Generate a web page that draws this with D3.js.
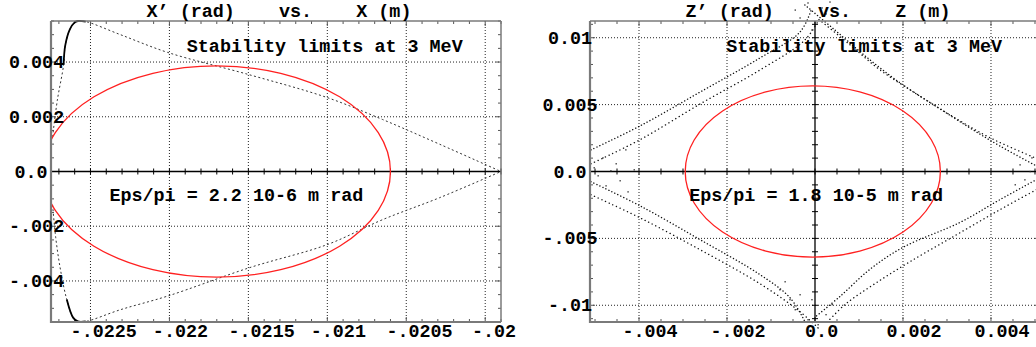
<!DOCTYPE html>
<html>
<head>
<meta charset="utf-8">
<script src="https://cdn.jsdelivr.net/npm/d3@7"></script>
<style>
  html, body { margin: 0; padding: 0; background: #fff; }
  svg text { font-family: "Liberation Mono", "DejaVu Sans Mono", monospace; font-weight: bold; font-size: 18.4px; fill: #000; }
</style>
</head>
<body>
<svg id="chart" width="1036" height="347"></svg>
<script>
"use strict";

// ---- left panel : X' vs X ----
var titleA = "X\u2019 (rad)    vs.    X (m)";
var xTicksA = [-0.0225, -0.022, -0.0215, -0.021, -0.0205, -0.02];
var xTickLabelsA = ["-.0225", "-.022", "-.0215", "-.021", "-.0205", "-.02"];
var yTicksA = [0.004, 0.002, 0, -0.002, -0.004];
var yTickLabelsA = ["0.004", "0.002", "0.0", "-.002", "-.004"];
var ellipseA = {cx: -0.0217, cy: 0, a: 0.0011, b: 0.00386};
// separatrix
var sepUpperX = [-0.02274, -0.02271, -0.02267, -0.02266, -0.02263, -0.0226, -0.02258, -0.02253, -0.02231, -0.02201, -0.02149, -0.0210, -0.02065, -0.02029, -0.0199];
var sepUpperY = [0.00127, 0.0026, 0.0039, 0.0046, 0.0052, 0.00545, 0.0055, 0.00548, 0.0050, 0.00435, 0.00353, 0.0027, 0.0019, 0.001, 0];
var sepLowerX = [-0.02274, -0.02272, -0.02269, -0.02265, -0.02261, -0.02258, -0.02253, -0.02231, -0.02201, -0.02149, -0.021, -0.02065, -0.02029, -0.0199];
var sepLowerY = [-0.00122, -0.00242, -0.00359, -0.00468, -0.00534, -0.00548, -0.00548, -0.00505, -0.00455, -0.00351, -0.00267, -0.00176, -0.00096, 0];
var notesA = ["Stability limits at 3 MeV", "Eps/pi = 2.2 10-6 m rad"];
var notesAX = [-0.02189, -0.02238];
var notesAY = [0.00437, -0.00107];

// ---- right panel : Z' vs Z ----
var titleB = "Z\u2019 (rad)    vs.    Z (m)";
var xTicksB = [-0.004, -0.002, 0, 0.002, 0.004];
var xTickLabelsB = ["-.004", "-.002", "0.0", "0.002", "0.004"];
var yTicksB = [0.01, 0.005, 0, -0.005, -0.01];
var yTickLabelsB = ["0.01", "0.005", "0.0", "-.005", "-.01"];
var ellipseB = {cx: -0.00005, cy: 0, a: 0.0029, b: 0.0064};
// the four bands of tracked points, two rows each
var bandsX = [
  [-0.00509, -0.00398, -0.00261, -0.00125, -0.00034, -0.00007],
  [-0.00509, -0.00398, -0.00261, -0.00125, -0.00023, 0.00011],
  [-0.00509, -0.00398, -0.00261, -0.00125, -0.00057, -0.00023],
  [-0.00509, -0.00398, -0.00261, -0.00125, -0.00034, 0.00011],
  [-0.00023, 0.00045, 0.00125, 0.002, 0.00277, 0.00352, 0.0042, 0.00511],
  [0.00016, 0.0008, 0.00148, 0.00227, 0.00307, 0.00398, 0.00511],
  [0.00511, 0.0042, 0.0033, 0.002, 0.00125, 0.00057, 0],
  [0.00511, 0.0042, 0.00318, 0.00216, 0.00136, 0.00068, 0.00023]
];
var bandsY = [
  [0.00162, 0.0034, 0.00594, 0.00849, 0.01043, 0.01223],
  [0.00058, 0.00237, 0.00505, 0.00759, 0.00983, 0.01147],
  [-0.00077, -0.00256, -0.0051, -0.00771, -0.00943, -0.01122],
  [-0.00174, -0.00346, -0.00585, -0.00839, -0.01048, -0.01182],
  [0.01245, 0.01058, 0.00834, 0.00647, 0.00483, 0.00326, 0.00191, 0.00028],
  [0.01118, 0.00946, 0.00759, 0.00588, 0.00423, 0.00252, 0.00087],
  [-0.00047, -0.00211, -0.0038, -0.00567, -0.00731, -0.00933, -0.01089],
  [-0.00122, -0.00286, -0.0048, -0.00674, -0.00839, -0.00995, -0.01144]
];
// loose points near the corners of the diamond
var fuzzX = [-0.00502, -0.00493, -0.00482, -0.00475, -0.00464, -0.00452, -0.00443, -0.0043, -0.00425, -0.00411,
  -0.00045, -0.00034, -0.00016, 0.00016, 0.00025, 0.00034, -0.00007,
  -0.00057, -0.00045, -0.00034, -0.00016, -0.00007, 0.00007, 0.00025, 0.00039, -0.0008, -0.00068,
  0.00466, 0.00477, 0.00489, 0.00455, 0.00493];
var fuzzY = [0.00028, -0.00032, 0.00102, -0.00107, 0.00005, 0.00058, -0.00069, 0.00162, -0.00152, 0.00013,
  0.01207, 0.01148, 0.0126, 0.01223, 0.01178, 0.01267, 0.01058,
  -0.00958, -0.01033, -0.00921, -0.01108, -0.00958, -0.01145, -0.0107, -0.00995, -0.00884, -0.00824,
  0.0005, -0.00062, 0, -0.00099, 0.00102];
var notesB = ["Stability limits at 3 MeV", "Eps/pi = 1.8 10-5 m rad"];
var notesBX = [-0.00202, -0.00286];
var notesBY = [0.00894, -0.00219];

var CHAR_W = 11.04;
var svg = d3.select("#chart");
svg.append("rect").attr("width", 1036).attr("height", 347).attr("fill", "#fff");

function range(lo, hi, step) {
  var out = [];
  var n0 = Math.ceil(lo / step - 1e-6), n1 = Math.floor(hi / step + 1e-6);
  for (var i = n0; i <= n1; i++) out.push(+(i * step).toFixed(8));
  return out;
}

function drawPanel(cfg) {
  var x = d3.scaleLinear().domain(cfg.xDomain).range([cfg.left, cfg.right]);
  var y = d3.scaleLinear().domain(cfg.yDomain).range([cfg.bottom, cfg.top]);
  var g = svg.append("g");

  g.append("clipPath").attr("id", cfg.id + "clip")
    .append("rect").attr("x", cfg.left).attr("y", cfg.top)
    .attr("width", cfg.right - cfg.left).attr("height", cfg.bottom - cfg.top);

  // dotted grid
  var grid = g.append("g").attr("stroke", "#222").attr("stroke-width", 1).attr("stroke-dasharray", "1,2");
  cfg.xTicks.filter(function (t) { return t !== 0; }).forEach(function (t) {
    grid.append("line").attr("x1", x(t)).attr("x2", x(t)).attr("y1", cfg.top).attr("y2", cfg.bottom);
  });
  cfg.yTicks.filter(function (t) { return t !== 0; }).forEach(function (t) {
    grid.append("line").attr("x1", cfg.left).attr("x2", cfg.right).attr("y1", y(t)).attr("y2", y(t));
  });

  // ticks on the frame
  var tk = g.append("g").attr("stroke", "#555").attr("stroke-width", 1);
  range(cfg.xDomain[0], cfg.xDomain[1], cfg.xMinor).forEach(function (t) {
    var major = cfg.xTicks.some(function (m) { return Math.abs(m - t) < 1e-9; });
    var L = major ? 5 : 3;
    tk.append("line").attr("x1", x(t)).attr("x2", x(t)).attr("y1", cfg.bottom).attr("y2", cfg.bottom - L);
    tk.append("line").attr("x1", x(t)).attr("x2", x(t)).attr("y1", cfg.top).attr("y2", cfg.top + L);
  });
  range(cfg.yDomain[0], cfg.yDomain[1], cfg.yMinor).forEach(function (t) {
    var major = cfg.yTicks.some(function (m) { return Math.abs(m - t) < 1e-9; });
    var L = major ? 5 : 3;
    tk.append("line").attr("x1", cfg.left).attr("x2", cfg.left + L).attr("y1", y(t)).attr("y2", y(t));
    tk.append("line").attr("x1", cfg.right).attr("x2", cfg.right - L).attr("y1", y(t)).attr("y2", y(t));
  });

  // zero axes with crossing ticks
  var ax = g.append("g").attr("stroke", "#000").attr("stroke-width", 1.3);
  ax.append("line").attr("x1", cfg.left).attr("x2", cfg.right).attr("y1", y(0)).attr("y2", y(0));
  range(cfg.xDomain[0], cfg.xDomain[1], cfg.xMinor).forEach(function (t) {
    ax.append("line").attr("x1", x(t)).attr("x2", x(t)).attr("y1", y(0) - 3).attr("y2", y(0) + 3).attr("stroke-width", 1);
  });
  if (cfg.xDomain[0] < 0 && cfg.xDomain[1] > 0) {
    ax.append("line").attr("x1", x(0)).attr("x2", x(0)).attr("y1", cfg.top).attr("y2", cfg.bottom);
    range(cfg.yDomain[0], cfg.yDomain[1], cfg.yMinor).forEach(function (t) {
      ax.append("line").attr("x1", x(0) - 3).attr("x2", x(0) + 3).attr("y1", y(t)).attr("y2", y(t)).attr("stroke-width", 1);
    });
  }

  cfg.drawData(g, x, y);

  // red ellipse
  var e = cfg.ellipse;
  g.append("ellipse").attr("clip-path", "url(#" + cfg.id + "clip)")
    .attr("cx", x(e.cx)).attr("cy", y(e.cy))
    .attr("rx", x(e.cx + e.a) - x(e.cx)).attr("ry", y(e.cy) - y(e.cy + e.b))
    .attr("fill", "none").attr("stroke", "#ff2020").attr("stroke-width", 1.3);

  // frame
  var fr = g.append("g").attr("stroke", "#7a7a7a");
  fr.append("line").attr("x1", cfg.left).attr("x2", cfg.right).attr("y1", cfg.top).attr("y2", cfg.top).attr("stroke-width", 1.5);
  fr.append("line").attr("x1", cfg.right).attr("x2", cfg.right).attr("y1", cfg.top).attr("y2", cfg.bottom).attr("stroke-width", 1.5);
  fr.append("line").attr("x1", cfg.left).attr("x2", cfg.left).attr("y1", cfg.top).attr("y2", cfg.bottom + 1).attr("stroke-width", 2.2);
  fr.append("line").attr("x1", cfg.left - 1).attr("x2", cfg.right).attr("y1", cfg.bottom).attr("y2", cfg.bottom).attr("stroke-width", 2.2);

  // tick labels
  cfg.xTicks.forEach(function (t, i) {
    var lab = cfg.xLabels[i];
    g.append("text").attr("text-anchor", "middle")
      .attr("x", x(t) + 0.2 * lab.length * CHAR_W).attr("y", 337).text(lab);
  });
  cfg.yTicks.forEach(function (t, i) {
    var lab = cfg.yLabels[i];
    var w = lab.length * CHAR_W;
    var cx = Math.max(cfg.left - 20, 9 + w / 2);
    g.append("text").attr("text-anchor", "middle").attr("x", cx).attr("y", y(t) + 6).text(lab);
  });

  // title and notes
  g.append("text").attr("text-anchor", "middle").attr("x", (cfg.left + cfg.right) / 2 + 3).attr("y", 17)
    .style("white-space", "pre").text(cfg.title);
  cfg.notes.forEach(function (s, i) {
    g.append("text").attr("x", x(cfg.notesX[i])).attr("y", y(cfg.notesY[i])).style("white-space", "pre").text(s);
  });
}

function drawSeparatrix(g, x, y) {
  var upper = sepUpperX.map(function (v, i) { return [v, sepUpperY[i]]; });
  var lower = sepLowerX.map(function (v, i) { return [v, sepLowerY[i]]; });
  var lineY = d3.line().x(function (d) { return x(d[0]); }).y(function (d) { return y(d[1]); }).curve(d3.curveCatmullRom);
  [upper, lower].forEach(function (pts) {
    g.append("path").attr("d", lineY(pts)).attr("fill", "none")
      .attr("stroke", "#333").attr("stroke-width", 1).attr("stroke-dasharray", "2,2.5");
    // the dense turning part at the far left
    var tip = pts.filter(function (d) { return d[0] < -0.0225 && Math.abs(d[1]) > 0.0036; });
    g.append("path").attr("d", lineY(tip)).attr("fill", "none")
      .attr("stroke", "#000").attr("stroke-width", 1.8);
  });
}

function drawDiamond(g, x, y) {
  var lineY = d3.line().x(function (d) { return x(d[0]); }).y(function (d) { return y(d[1]); }).curve(d3.curveCatmullRom);
  bandsX.forEach(function (bx, k) {
    var pts = bx.map(function (v, i) { return [v, bandsY[k][i]]; });
    g.append("path").attr("d", lineY(pts)).attr("fill", "none")
      .attr("stroke", "#111").attr("stroke-width", 1.4).attr("stroke-linecap", "round")
      .attr("stroke-dasharray", k % 2 ? "0.1,3.9" : "0.1,3.2");
  });
  g.append("g").selectAll("rect").data(fuzzX).join("rect")
    .attr("x", function (d) { return x(d) - 0.6; })
    .attr("y", function (d, i) { return y(fuzzY[i]) - 0.6; })
    .attr("width", 1.3).attr("height", 1.3).attr("fill", "#222");
}

drawPanel({
  id: "a", left: 51, right: 501, top: 21, bottom: 322,
  xDomain: [-0.02275, -0.0199], yDomain: [-0.0055, 0.0055],
  xMinor: 0.0001, yMinor: 0.0005,
  xTicks: xTicksA, xLabels: xTickLabelsA, yTicks: yTicksA, yLabels: yTickLabelsA,
  ellipse: ellipseA, title: titleA,
  notes: notesA, notesX: notesAX, notesY: notesAY,
  drawData: drawSeparatrix
});

drawPanel({
  id: "b", left: 590, right: 1040, top: 21, bottom: 322,
  xDomain: [-0.005114, 0.005114], yDomain: [-0.01125, 0.01125],
  xMinor: 0.0005, yMinor: 0.001,
  xTicks: xTicksB, xLabels: xTickLabelsB, yTicks: yTicksB, yLabels: yTickLabelsB,
  ellipse: ellipseB, title: titleB,
  notes: notesB, notesX: notesBX, notesY: notesBY,
  drawData: drawDiamond
});
</script>
</body>
</html>
